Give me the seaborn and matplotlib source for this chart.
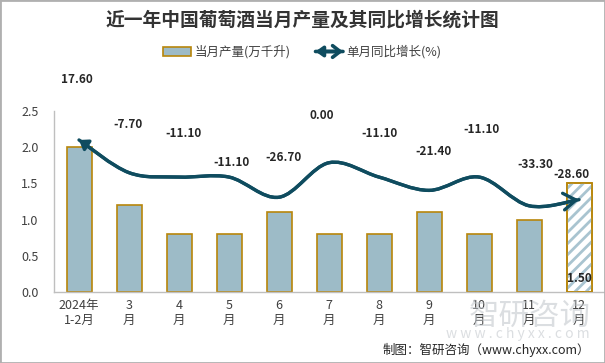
import numpy as np
import pandas as pd
import matplotlib
matplotlib.use("Agg")
import matplotlib.pyplot as plt
import seaborn as sns
from matplotlib.path import Path
from matplotlib.patches import FancyArrowPatch, Patch, Rectangle
from matplotlib.legend_handler import HandlerBase

##### DATA #####
months = ["2024年\n1-2月", "3\n月", "4\n月", "5\n月", "6\n月", "7\n月",
          "8\n月", "9\n月", "10\n月", "11\n月", "12\n月"]
output = [2.0, 1.2, 0.8, 0.8, 1.1, 0.8, 0.8, 1.1, 0.8, 1.0, 1.5]
yoy = [17.6, -7.7, -11.1, -11.1, -26.7, 0.0, -11.1, -21.4, -11.1, -33.3, -28.6]

# label nudges (pixels) for the growth-rate labels
label_dx = [-2, -1, 5, 2, 5, -7, 1, 5, 3, 6, -8]
label_dy = [60, 48, 44, 15, 40, 47, 44, 39, 48, 41, 25]

BAR = "#9DBBC7"
EDGE = "#B8860B"
LINE = "#0F4C5F"
HATCH = "#A9C4D0"
TXT = "#404040"

END_STYLE = "->,head_length=0.45,head_width=0.3"
START_STYLE = "<|-,head_length=0.25,head_width=0.18"

##### STYLE #####
sns.set_theme(style="white")
plt.rcParams['font.family'] = ['Noto Sans CJK SC', 'DejaVu Sans']
plt.rcParams['hatch.linewidth'] = 2.0

fig = plt.figure(figsize=(6.05, 3.63), dpi=100)
ax = fig.add_axes([54/605, 71/363, 550/605, 181/363])

df = pd.DataFrame({"month": months, "output": output, "yoy": yoy})

##### BARS #####
sns.barplot(data=df, x="month", y="output", color=BAR, edgecolor=EDGE,
            linewidth=1.2, width=0.5, saturation=1, ax=ax)

# last month: hatched bar
last = ax.patches[len(output) - 1]
last.set_facecolor("white")
ax.bar(len(output) - 1, output[-1], width=0.5, facecolor="none",
       edgecolor=HATCH, hatch="///", linewidth=0, zorder=3)
ax.bar(len(output) - 1, output[-1], width=0.5, facecolor="none",
       edgecolor=EDGE, linewidth=1.2, zorder=4)
ax.annotate(f"{output[-1]:.2f}", xy=(len(output) - 1, 0), xytext=(0, 13),
            textcoords="offset pixels", ha="center", va="center",
            fontsize=8.5, fontweight="bold", color="#262626", zorder=5)

ax.set_xlim(-0.5, len(output) - 0.5)
ax.set_ylim(0, 2.5)
ax.set_yticks(np.arange(0, 2.51, 0.5))
ax.set_yticklabels([f"{v:.1f}" for v in np.arange(0, 2.51, 0.5)])
ax.set_xlabel("")
ax.set_ylabel("")
ax.tick_params(axis="y", length=0, labelsize=9, colors=TXT, pad=11)
ax.tick_params(axis="x", length=0, labelsize=9, colors=TXT, pad=5)
for s in ["top", "right"]:
    ax.spines[s].set_visible(False)
for s in ["left", "bottom"]:
    ax.spines[s].set_color("#BFBFBF")
    ax.spines[s].set_linewidth(1)

##### SMOOTH LINE ON SECONDARY AXIS #####
ax2 = ax.twinx()
ax2.set_ylim(-100, 40)
ax2.set_yticks([])
for s in ax2.spines.values():
    s.set_visible(False)

pts = np.column_stack([np.arange(len(yoy)), np.array(yoy, dtype=float)])
verts = [pts[0]]
codes = [Path.MOVETO]
n = len(pts)
for i in range(n - 1):
    p0 = pts[i - 1] if i > 0 else pts[i]
    p1 = pts[i]
    p2 = pts[i + 1]
    p3 = pts[i + 2] if i + 2 < n else pts[i + 1]
    verts += [p1 + (p2 - p0) / 6, p2 - (p3 - p1) / 6, p2]
    codes += [Path.CURVE4] * 3
curve = Path(np.array(verts), codes)

for style in (END_STYLE, START_STYLE):
    ax2.add_patch(FancyArrowPatch(path=curve, arrowstyle=style, mutation_scale=20,
                                  color=LINE, linewidth=2.4, shrinkA=0, shrinkB=0,
                                  zorder=3))

for i, v in enumerate(yoy):
    ax2.annotate(f"{v:.2f}", xy=(i, v), xytext=(label_dx[i], label_dy[i]),
                 textcoords="offset pixels", ha="center", va="center",
                 fontsize=8.5, fontweight="bold", color="#262626")

##### LEGEND #####
class ArrowHandler(HandlerBase):
    def create_artists(self, legend, orig_handle, xdescent, ydescent,
                       width, height, fontsize, trans):
        y = height / 2 - ydescent
        arts = []
        for style in ("->,head_length=0.45,head_width=0.35",
                      "<|-,head_length=0.35,head_width=0.25"):
            a = FancyArrowPatch((-xdescent, y), (width - xdescent, y),
                                arrowstyle=style, mutation_scale=12,
                                color=LINE, linewidth=2.6,
                                shrinkA=0, shrinkB=0, transform=trans)
            arts.append(a)
        return arts

bar_handle = Patch(facecolor=BAR, edgecolor=EDGE, linewidth=1.2)
line_handle = FancyArrowPatch((0, 0), (1, 0), color=LINE)
fig.legend([bar_handle, line_handle], ["当月产量(万千升)", "单月同比增长(%)"],
           handler_map={line_handle: ArrowHandler()},
           loc="center", bbox_to_anchor=(0.5, 1 - 52/363), ncol=2,
           frameon=False, fontsize=9, columnspacing=2.0, handletextpad=0.3,
           handlelength=2.2, handleheight=0.8, labelcolor=TXT)

##### TEXTS #####
fig.text(0.5, 1 - 20/363, "近一年中国葡萄酒当月产量及其同比增长统计图",
         ha="center", va="center", fontsize=13.5, fontweight="bold", color="#333333")
fig.text(590/605, 13/363, "制图：智研咨询（www.chyxx.com）",
         ha="right", va="center", fontsize=9, color="#262626")

# watermark
fig.text(530/605, 1 - 316/363, "智研咨询", ha="center", va="center",
         fontsize=22, color="#BFC4C9", alpha=0.55, zorder=10)
fig.text(518/605, 1 - 334/363, "w w w . c h y x x . c o m", ha="center", va="center",
         fontsize=10, color="#BFC4C9", alpha=0.55, zorder=10)

# figure frame
fig.patches.append(Rectangle((0, 0), 1, 1, transform=fig.transFigure, fill=False,
                             edgecolor="#B0B0B0", linewidth=2))

fig.savefig("out.png", dpi=100)
